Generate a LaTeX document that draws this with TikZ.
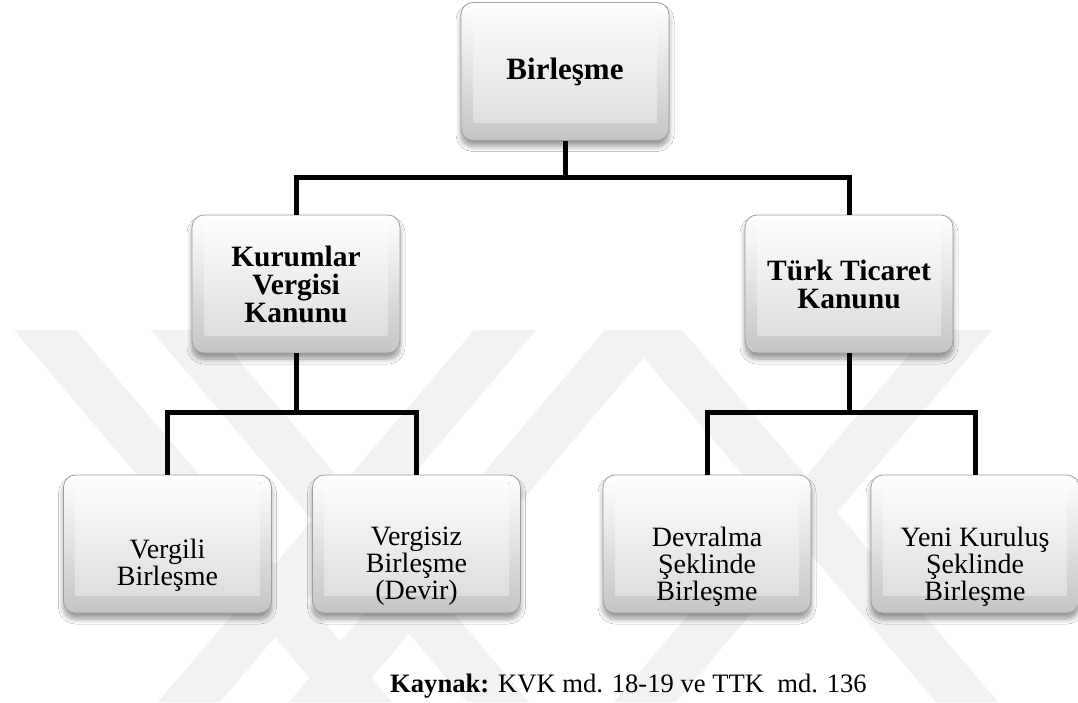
\documentclass[tikz,border=0pt]{standalone}
\usepackage{fontspec}
\setmainfont{Liberation Serif}
\usetikzlibrary{shadows.blur}
\begin{document}
\begin{tikzpicture}[x=1pt,y=-1pt,
  wm/.style={fill=black!5},
  box/.style={rounded corners=12pt, minimum width=208pt, minimum height=138pt,
    inner sep=0pt, align=center, draw=black!38, line width=0.8pt,
    top color=white, bottom color=black!23,
    blur shadow={shadow xshift=0pt, shadow yshift=-6pt, shadow opacity=40,
      shadow blur radius=5pt, shadow blur steps=8},
    path picture={
      \fill[sharp corners, top color=white, bottom color=black!15]
        ([xshift=12pt,yshift=-8pt]path picture bounding box.north west)
        rectangle ([xshift=-12pt,yshift=18pt]path picture bounding box.south east);
    }},
  lone/.style={box, font=\fontsize{31}{34}\selectfont\bfseries},
  ltwo/.style={box, font=\fontsize{29.5}{28}\selectfont\bfseries},
  lthree/.style={box},
  ctext/.style={inner sep=0pt, align=center, font=\fontsize{28}{27}\selectfont},
  conn/.style={line width=5pt, line join=miter, draw=black}]

\useasboundingbox[fill=white] (0,0) rectangle (1078,702);

% faint background emblem made of diagonal bands
\fill[wm] (14,330)  -- ++(62,0) -- ++(316,372)  -- ++(-62,0) -- cycle;
\fill[wm] (151,330) -- ++(62,0) -- ++(316,372)  -- ++(-62,0) -- cycle;
\fill[wm] (620,330) -- ++(62,0) -- ++(316,372)  -- ++(-62,0) -- cycle;
\fill[wm] (474,330) -- ++(62,0) -- ++(-316,372) -- ++(-62,0) -- cycle;
\fill[wm] (605,330) -- ++(62,0) -- ++(-316,372) -- ++(-62,0) -- cycle;
\fill[wm] (930,330) -- ++(62,0) -- ++(-316,372) -- ++(-62,0) -- cycle;

% upper levels
\node[lone] (top) at (565,71.5) {Birleşme};
\node[ltwo] (kvk) at (296,284)  {Kurumlar\\Vergisi\\Kanunu};
\node[ltwo] (ttk) at (849,284)  {Türk Ticaret\\Kanunu};

% lowest level: boxes and their captions
\node[lthree] (vb) at (167.5,544) {};
\node[lthree] (vz) at (416.5,544) {};
\node[lthree] (dv) at (707,544)   {};
\node[lthree] (yk) at (975,544)   {};
\node[ctext] (vbt) at (167.5,565) {Vergili\\Birleşme};
\node[ctext] (vzt) at (416.5,566) {Vergisiz\\Birleşme\\(Devir)};
\node[ctext] (dvt) at (707,567)   {Devralma\\Şeklinde\\Birleşme};
\node[ctext] (ykt) at (975,567)   {Yeni Kuruluş\\Şeklinde\\Birleşme};

% junction points of the connectors
\coordinate (jt) at (565,177);
\coordinate (jl) at (296,412);
\coordinate (jr) at (849,412);

\draw[conn] (top.south) -- (jt);
\draw[conn] (kvk.north) |- (jt) -| (ttk.north);
\draw[conn] (kvk.south) -- (jl);
\draw[conn] (vb.north) |- (jl) -| (vz.north);
\draw[conn] (ttk.south) -- (jr);
\draw[conn] (dv.north) |- (jr) -| (yk.north);

% source line
\node[anchor=base west, inner sep=0pt, font=\fontsize{26.6}{30}\selectfont] (src) at (390,692)
  {\textbf{Kaynak:} KVK md. 18-19 ve TTK\ \ md. 136};
\end{tikzpicture}
\end{document}
